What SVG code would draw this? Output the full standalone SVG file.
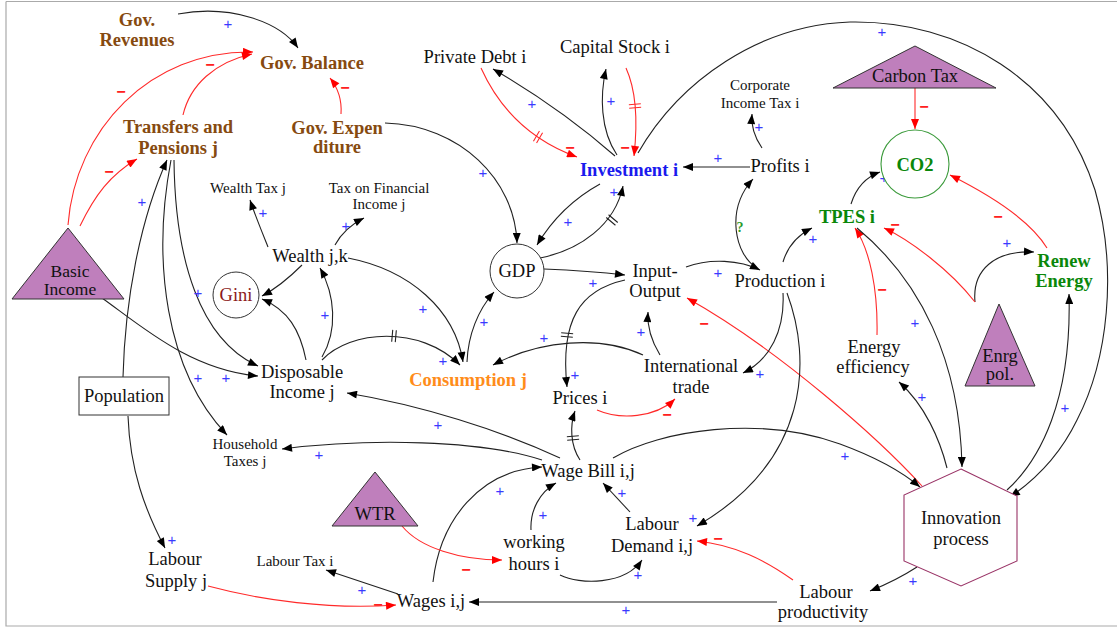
<svg xmlns="http://www.w3.org/2000/svg" width="1117" height="628" viewBox="0 0 1117 628">
<defs>
<style>
.k{fill:none;stroke:#222;stroke-width:1.1}
.r{fill:none;stroke:#ff2a2a;stroke-width:1.1}
.dl{fill:none;stroke:#222;stroke-width:1.1}
.dr{fill:none;stroke:#ff2a2a;stroke-width:1.1}
.t{font-family:"Liberation Serif",serif;font-size:18.5px;fill:#111;text-anchor:middle}
.s{font-size:15px}
.b{font-weight:bold}
.br{fill:#864a10}
.g{fill:#0a870a}
.pl{font-family:"Liberation Sans",sans-serif;font-size:15px;fill:#3a3aff;text-anchor:middle}
.mi{font-family:"Liberation Sans",sans-serif;font-size:16px;font-weight:bold;fill:#ff2020;text-anchor:middle}
.tri{fill:#bf7fbc;stroke:#333;stroke-width:1}
</style>
<marker id="ak" viewBox="0 0 10 8" refX="10" refY="4" markerWidth="11" markerHeight="8" markerUnits="userSpaceOnUse" orient="auto"><path d="M0,0 L10,4 L0,8 z" fill="#000"/></marker>
<marker id="ar" viewBox="0 0 10 8" refX="10" refY="4" markerWidth="11" markerHeight="8" markerUnits="userSpaceOnUse" orient="auto"><path d="M0,0 L10,4 L0,8 z" fill="#f00"/></marker>
</defs>
<rect width="1117" height="628" fill="#fff"/>
<path d="M6,1.5 H1117 M6,1.5 V626 H1117" fill="none" stroke="#aaa" stroke-width="1.2"/>

<g id="connectors">
<path class="k" d="M178,14 C230,4 280,22 298,48" marker-end="url(#ak)"/>
<path class="r" d="M68,225 C75,130 150,50 253,52" marker-end="url(#ar)"/>
<path class="r" d="M183,115 C190,85 215,62 252,54" marker-end="url(#ar)"/>
<path class="r" d="M80,226 C95,195 110,175 137,159" marker-end="url(#ar)"/>
<path class="r" d="M341,114 C342,100 338,88 330,78" marker-end="url(#ar)"/>
<path class="k" d="M385,123 C460,125 515,180 517,243" marker-end="url(#ak)"/>
<path class="k" d="M615,156 Q560,108 493,69" marker-end="url(#ak)"/>
<path class="r" d="M481,68 C500,110 530,140 577,157" marker-end="url(#ar)"/>
<path class="k" d="M617,155 C600,130 600,95 606,69" marker-end="url(#ak)"/>
<path class="r" d="M626,68 C636,90 638,120 634,156" marker-end="url(#ar)"/>
<path class="k" d="M638,153 C680,80 760,25 850,22 C960,20 1060,80 1095,190 C1118,270 1108,360 1077,420 C1060,455 1035,480 1010,497" marker-end="url(#ak)"/>
<path class="k" d="M750,167 H683" marker-end="url(#ak)"/>
<path class="k" d="M762,148 C755,138 751,126 752,114" marker-end="url(#ak)"/>
<path class="k" d="M757,268 C735,255 725,210 753,179" marker-end="url(#ak)"/>
<path class="k" d="M600,184 C580,195 555,215 537,245" marker-end="url(#ak)"/>
<path class="k" d="M540,258 C580,250 615,225 623,186" marker-end="url(#ak)"/>
<path class="r" d="M915,88 V129" marker-end="url(#ar)"/>
<path class="k" d="M851,204 C856,188 866,177 880,172" marker-end="url(#ak)"/>
<path class="r" d="M1047,248 C1030,220 990,195 950,175" marker-end="url(#ar)"/>
<path class="k" d="M975,302 C972,270 995,250 1034,252" marker-end="url(#ak)"/>
<path class="r" d="M975,302 C950,270 910,240 884,228" marker-end="url(#ar)"/>
<path class="r" d="M877,335 C878,290 870,250 855,228" marker-end="url(#ar)"/>
<path class="k" d="M857,228 C920,280 960,360 962,467" marker-end="url(#ak)"/>
<path class="k" d="M947,468 C940,440 925,405 899,382" marker-end="url(#ak)"/>
<path class="k" d="M1007,490 C1040,460 1072,400 1069,294" marker-end="url(#ak)"/>
<path class="r" d="M922,486 C880,440 780,350 687,298" marker-end="url(#ar)"/>
<path class="k" d="M613,458 C660,430 760,415 840,444 C870,455 900,470 920,487" marker-end="url(#ak)"/>
<path class="k" d="M917,567 C900,578 885,585 870,591" marker-end="url(#ak)"/>
<path class="k" d="M686,267 C710,258 740,260 760,270" marker-end="url(#ak)"/>
<path class="k" d="M783,262 C788,245 798,235 812,228" marker-end="url(#ak)"/>
<path class="k" d="M787,293 C812,360 810,460 697,526" marker-end="url(#ak)"/>
<path class="k" d="M783,293 C785,330 770,360 743,373" marker-end="url(#ak)"/>
<path class="k" d="M660,355 C652,342 647,328 648,312" marker-end="url(#ak)"/>
<path class="k" d="M643,355 C600,335 540,340 493,365" marker-end="url(#ak)"/>
<path class="r" d="M597,410 C620,420 655,418 675,399" marker-end="url(#ar)"/>
<path class="k" d="M544,269 C570,270 600,272 625,275" marker-end="url(#ak)"/>
<path class="k" d="M625,280 C580,290 560,320 567,387" marker-end="url(#ak)"/>
<path class="k" d="M580,460 C570,445 570,425 575,411" marker-end="url(#ak)"/>
<path class="k" d="M560,458 C500,430 420,405 347,393" marker-end="url(#ak)"/>
<path class="k" d="M542,460 C480,440 370,438 282,449" marker-end="url(#ak)"/>
<path class="k" d="M433,582 C440,520 480,470 542,467" marker-end="url(#ak)"/>
<path class="k" d="M531,530 C530,510 540,492 556,483" marker-end="url(#ak)"/>
<path class="k" d="M630,512 L603,483" marker-end="url(#ak)"/>
<path class="r" d="M402,526 C420,548 460,560 502,560" marker-end="url(#ar)"/>
<path class="k" d="M560,575 C580,585 625,585 642,560" marker-end="url(#ak)"/>
<path class="r" d="M793,580 C765,560 735,545 697,541" marker-end="url(#ar)"/>
<path class="k" d="M777,602 H469" marker-end="url(#ak)"/>
<path class="k" d="M398,594 L326,570" marker-end="url(#ak)"/>
<path class="r" d="M208,586 C260,600 330,610 396,605" marker-end="url(#ar)"/>
<path class="k" d="M128,416 C130,470 145,510 165,548" marker-end="url(#ak)"/>
<path class="k" d="M123,377 C125,300 140,220 167,160" marker-end="url(#ak)"/>
<path class="k" d="M171,160 C152,260 165,370 227,435" marker-end="url(#ak)"/>
<path class="k" d="M174,160 C175,260 200,340 258,366" marker-end="url(#ak)"/>
<path class="k" d="M102,298 C140,325 190,370 258,376" marker-end="url(#ak)"/>
<path class="k" d="M322,357 C338,330 335,295 320,268" marker-end="url(#ak)"/>
<path class="k" d="M322,360 C350,330 420,325 460,365" marker-end="url(#ak)"/>
<path class="k" d="M348,258 C410,270 455,310 463,362" marker-end="url(#ak)"/>
<path class="k" d="M467,362 C468,335 478,310 494,292" marker-end="url(#ak)"/>
<path class="k" d="M302,265 C290,277 277,288 262,296" marker-end="url(#ak)"/>
<path class="k" d="M306,360 C300,330 288,310 262,299" marker-end="url(#ak)"/>
<path class="k" d="M335,245 C342,232 352,224 364,218" marker-end="url(#ak)"/>
<path class="k" d="M268,247 C262,232 255,215 250,200" marker-end="url(#ak)"/>
<path class="dr" transform="translate(538,137) rotate(30)" d="M-1.8,-6 V6 M1.8,-6 V6"/>
<path class="dr" transform="translate(635,106) rotate(85)" d="M-1.8,-6 V6 M1.8,-6 V6"/>
<path class="dl" transform="translate(612,220) rotate(-50)" d="M-1.8,-6 V6 M1.8,-6 V6"/>
<path class="dl" transform="translate(394,336) rotate(5)" d="M-1.8,-6 V6 M1.8,-6 V6"/>
<path class="dl" transform="translate(567,335) rotate(95)" d="M-1.8,-6 V6 M1.8,-6 V6"/>
<path class="dl" transform="translate(573,438) rotate(-95)" d="M-1.8,-6 V6 M1.8,-6 V6"/>
<text class="pl" x="228" y="29">+</text>
<text class="mi" x="121" y="97">−</text>
<text class="mi" x="210" y="70">−</text>
<text class="mi" x="109" y="177">−</text>
<text class="mi" x="345" y="93">−</text>
<text class="pl" x="483" y="178">+</text>
<text class="pl" x="532" y="109">+</text>
<text class="mi" x="570" y="153">−</text>
<text class="pl" x="611" y="106">+</text>
<text class="mi" x="625" y="153">−</text>
<text class="pl" x="718" y="163">+</text>
<text class="pl" x="759" y="132">+</text>
<text class="pl" x="882" y="37">+</text>
<text class="mi" x="924" y="112">−</text>
<text class="pl" x="884" y="183">+</text>
<text class="mi" x="998" y="222">−</text>
<text class="mi" x="895" y="230">−</text>
<text class="pl" x="1007" y="248">+</text>
<text class="mi" x="882" y="295">−</text>
<text class="pl" x="915" y="328">+</text>
<text class="pl" x="922" y="402">+</text>
<text class="pl" x="1065" y="413">+</text>
<text x="740" y="232" font-family="Liberation Serif,serif" font-size="14" font-weight="bold" fill="#2a9a2a" text-anchor="middle">?</text>
<text class="pl" x="813" y="244">+</text>
<text class="pl" x="718" y="278">+</text>
<text class="mi" x="704" y="329">−</text>
<text class="pl" x="760" y="379">+</text>
<text class="pl" x="641" y="337">+</text>
<text class="pl" x="544" y="343">+</text>
<text class="pl" x="593" y="288">+</text>
<text class="pl" x="568" y="227">+</text>
<text class="pl" x="614" y="197">+</text>
<text class="pl" x="575" y="380">+</text>
<text class="mi" x="667" y="420">−</text>
<text class="pl" x="845" y="461">+</text>
<text class="pl" x="693" y="523">+</text>
<text class="pl" x="622" y="498">+</text>
<text class="pl" x="638" y="580">+</text>
<text class="mi" x="718" y="544">−</text>
<text class="pl" x="626" y="615">+</text>
<text class="pl" x="913" y="586">+</text>
<text class="pl" x="500" y="496">+</text>
<text class="pl" x="543" y="520">+</text>
<text class="mi" x="466" y="575">−</text>
<text class="pl" x="438" y="430">+</text>
<text class="pl" x="319" y="460">+</text>
<text class="pl" x="362" y="595">+</text>
<text class="mi" x="378" y="610">−</text>
<text class="pl" x="172" y="545">+</text>
<text class="pl" x="142" y="207">+</text>
<text class="pl" x="198" y="298">+</text>
<text class="pl" x="198" y="383">+</text>
<text class="pl" x="226" y="383">+</text>
<text class="pl" x="263" y="218">+</text>
<text class="pl" x="346" y="231">+</text>
<text class="pl" x="325" y="320">+</text>
<text class="pl" x="423" y="314">+</text>
<text class="pl" x="443" y="366">+</text>
<text class="pl" x="484" y="327">+</text>
</g>

<g id="n-govrev"><text class="t b br" x="137" y="26">Gov.</text><text class="t b br" x="137" y="46">Revenues</text></g>
<g id="n-govbal"><text class="t b br" x="312" y="69">Gov. Balance</text></g>
<g id="n-transfers"><text class="t b br" x="178" y="133">Transfers and</text><text class="t b br" x="178" y="154">Pensions j</text></g>
<g id="n-govexp"><text class="t b br" x="337" y="134">Gov. Expen</text><text class="t b br" x="337" y="153">diture</text></g>
<g id="n-privdebt"><text class="t" x="475" y="63">Private Debt i</text></g>
<g id="n-capstock"><text class="t" x="615" y="53">Capital Stock i</text></g>
<g id="n-corptax"><text class="t s" x="760" y="90">Corporate</text><text class="t s" x="760" y="108">Income Tax i</text></g>
<g id="n-invest"><text class="t b" x="629" y="176" style="fill:#1a1aee">Investment i</text></g>
<g id="n-profits"><text class="t" x="780" y="172">Profits i</text></g>
<g id="n-carbontax"><path class="tri" d="M915,46 L996,88 L833,88 z"/><text class="t" x="915" y="82">Carbon Tax</text></g>
<g id="n-co2"><circle cx="915" cy="164" r="34" fill="#fff" stroke="#3a9a3a" stroke-width="1.1"/><text class="t b g" x="915" y="171">CO2</text></g>
<g id="n-tpes"><text class="t b g" x="847" y="223">TPES i</text></g>
<g id="n-renew"><text class="t b g" x="1064" y="267">Renew</text><text class="t b g" x="1064" y="287">Energy</text></g>
<g id="n-enrgpol"><path class="tri" d="M999,304 L1035,386 L965,386 z"/><text class="t" x="1000" y="362">Enrg</text><text class="t" x="1000" y="380">pol.</text></g>
<g id="n-enefficiency"><text class="t" x="874" y="353">Energy</text><text class="t" x="873" y="373">efficiency</text></g>
<g id="n-innovation"><path d="M961,469 L1017,496 L1017,561 L961,586 L904,561 L904,495 z" fill="#fff" stroke="#993366" stroke-width="1.1"/><text class="t" x="961" y="524">Innovation</text><text class="t" x="961" y="545">process</text></g>
<g id="n-labprod"><text class="t" x="826" y="598">Labour</text><text class="t" x="823" y="618">productivity</text></g>
<g id="n-wages"><text class="t" x="431" y="607">Wages i,j</text></g>
<g id="n-labtax"><text class="t s" x="295" y="566">Labour Tax i</text></g>
<g id="n-labsupply"><text class="t" x="175" y="565">Labour</text><text class="t" x="176" y="587">Supply j</text></g>
<g id="n-wtr"><path class="tri" d="M375,472 L418,526 L332,526 z"/><text class="t" x="375" y="520">WTR</text></g>
<g id="n-workhours"><text class="t" x="534" y="548">working</text><text class="t" x="534" y="570">hours i</text></g>
<g id="n-labdemand"><text class="t" x="652" y="530">Labour</text><text class="t" x="652" y="552">Demand i,j</text></g>
<g id="n-wagebill"><text class="t" x="588" y="477">Wage Bill i,j</text></g>
<g id="n-hhtaxes"><text class="t s" x="245" y="449">Household</text><text class="t s" x="245" y="466">Taxes j</text></g>
<g id="n-population"><rect x="79" y="377" width="90" height="38" fill="#fff" stroke="#333" stroke-width="1"/><text class="t" x="124" y="402">Population</text></g>
<g id="n-basicincome"><path class="tri" d="M68,228 L124,299 L12,299 z"/><text class="t" x="70" y="277" style="font-size:17.5px">Basic</text><text class="t" x="70" y="295" style="font-size:17.5px">Income</text></g>
<g id="n-gini"><circle cx="236" cy="295" r="23" fill="#fff" stroke="#333" stroke-width="1"/><text class="t" x="236" y="301" style="fill:#8b1a1a">Gini</text></g>
<g id="n-wealthtax"><text class="t s" x="248" y="193">Wealth Tax j</text></g>
<g id="n-taxfin"><text class="t s" x="379" y="193">Tax on Financial</text><text class="t s" x="379" y="209">Income j</text></g>
<g id="n-wealth"><text class="t" x="310" y="262">Wealth j,k</text></g>
<g id="n-gdp"><circle cx="517" cy="271" r="27" fill="#fff" stroke="#333" stroke-width="1"/><text class="t" x="517" y="277">GDP</text></g>
<g id="n-disposable"><text class="t" x="302" y="378">Disposable</text><text class="t" x="302" y="398">Income j</text></g>
<g id="n-consumption"><text class="t b" x="468" y="386" style="fill:#ff8c1a">Consumption j</text></g>
<g id="n-io"><text class="t" x="655" y="277">Input-</text><text class="t" x="655" y="297">Output</text></g>
<g id="n-production"><text class="t" x="780" y="287">Production i</text></g>
<g id="n-inttrade"><text class="t" x="691" y="372">International</text><text class="t" x="691" y="393">trade</text></g>
<g id="n-prices"><text class="t" x="580" y="404">Prices i</text></g>
</svg>
